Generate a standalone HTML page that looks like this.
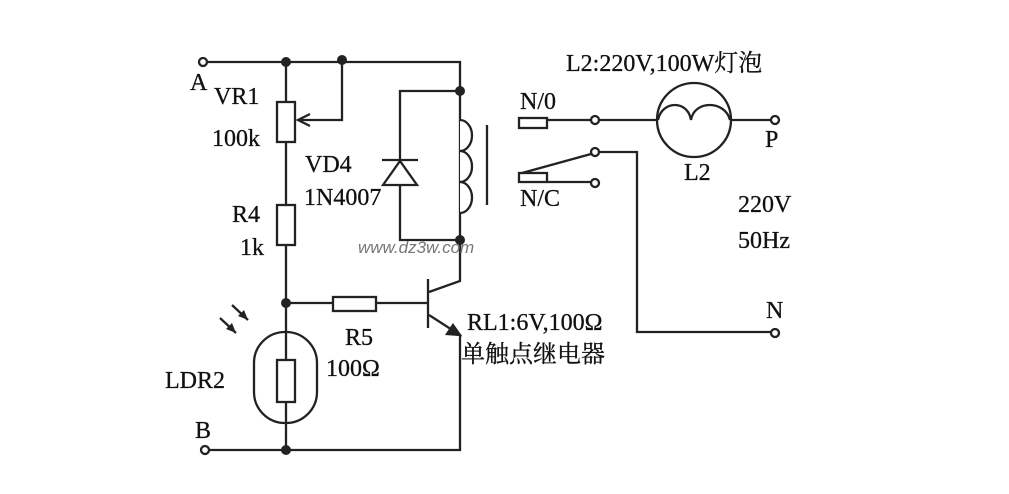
<!DOCTYPE html>
<html><head><meta charset="utf-8"><style>
html,body{margin:0;padding:0;background:#fff;}
svg text{font-family:"Liberation Serif","Noto Serif CJK SC",serif;fill:#111;font-size:24px;stroke:#111;stroke-width:0.3px;}
</style></head><body>
<svg width="1009" height="489" viewBox="0 0 1009 489" xmlns="http://www.w3.org/2000/svg">
<g stroke="#222" stroke-width="2.3" fill="none">
<polyline points="207,62 460,62 460,240"/>
<circle cx="203" cy="62" r="4" fill="#fff"/>
<line x1="286" y1="62" x2="286" y2="450"/>
<rect x="277" y="102" width="18" height="40" fill="#fff"/>
<polyline points="342,60 342,120 298,120"/>
<polyline points="310,114 298,120 310,126"/>
<rect x="277" y="205" width="18" height="40" fill="#fff"/>
<polyline points="460,91 400,91 400,240 460,240"/>
<polygon points="383,185 417,185 400,161" fill="#fff"/>
<line x1="382" y1="160" x2="418" y2="160"/>
<path d="M460,120 a12,15.5 0 0 1 0,31 a12,15.5 0 0 1 0,31 a12,15.5 0 0 1 0,31" fill="#fff"/>
<line x1="487" y1="125" x2="487" y2="205"/>
<line x1="286" y1="303" x2="428" y2="303"/>
<rect x="333" y="297" width="43" height="14" fill="#fff"/>
<line x1="428" y1="279" x2="428" y2="328"/>
<polyline points="429,292 460,281 460,240"/>
<polyline points="429,315 460,335 460,450 207,450"/>
<polygon points="460,335 447,334 453,325" fill="#222"/>
<circle cx="205" cy="450" r="4" fill="#fff"/>
<rect x="254" y="332" width="63" height="91" rx="31" fill="#fff"/>
<line x1="286" y1="332" x2="286" y2="423"/>
<rect x="277" y="360" width="18" height="42" fill="#fff"/>
<line x1="232" y1="305" x2="248" y2="320"/>
<line x1="220" y1="318" x2="236" y2="333"/>
<rect x="519" y="118" width="28" height="10"/>
<line x1="547" y1="120" x2="591" y2="120"/>
<line x1="599" y1="120" x2="657" y2="120"/>
<circle cx="595" cy="120" r="4" fill="#fff"/>
<circle cx="694" cy="120" r="37"/>
<path d="M658,120 C662,100 688,100 691,120 C694,100 725,100 730,120"/>
<line x1="731" y1="120" x2="771" y2="120"/>
<circle cx="775" cy="120" r="4" fill="#fff"/>
<polyline points="599,152 637,152 637,332 771,332"/>
<circle cx="595" cy="152" r="4" fill="#fff"/>
<circle cx="775" cy="333" r="4" fill="#fff"/>
<line x1="522" y1="173" x2="591" y2="154"/>
<rect x="519" y="173" width="28" height="9"/>
<line x1="547" y1="182" x2="591" y2="182"/>
<circle cx="595" cy="183" r="4" fill="#fff"/>
</g>
<g fill="#222">
<circle cx="286" cy="62" r="5"/><circle cx="342" cy="60" r="5"/>
<circle cx="460" cy="91" r="5"/><circle cx="460" cy="240" r="5"/>
<circle cx="286" cy="303" r="5"/><circle cx="286" cy="450" r="5"/>
<polygon points="248,320 238,316 244,310"/>
<polygon points="236,333 226,329 232,323"/>
</g>
<text x="190" y="90">A</text>
<text x="214" y="104">VR1</text>
<text x="212" y="146">100k</text>
<text x="305" y="172">VD4</text>
<text x="304" y="205">1N4007</text>
<text x="232" y="222">R4</text>
<text x="240" y="255">1k</text>
<text x="345" y="345">R5</text>
<text x="326" y="376">100Ω</text>
<text x="165" y="388">LDR2</text>
<text x="195" y="438">B</text>
<text x="358" y="253" style="font-family:'Liberation Sans',sans-serif;font-style:italic;font-size:17px;fill:#777;stroke:none">www.dz3w.com</text>
<text x="566" y="71">L2:220V,100W灯泡</text>
<text x="520" y="109">N/0</text>
<text x="520" y="206">N/C</text>
<text x="684" y="180">L2</text>
<text x="765" y="147">P</text>
<text x="738" y="212">220V</text>
<text x="738" y="248">50Hz</text>
<text x="766" y="318">N</text>
<text x="467" y="330">RL1:6V,100Ω</text>
<text x="461" y="362">单触点继电器</text>
</svg>
</body></html>
